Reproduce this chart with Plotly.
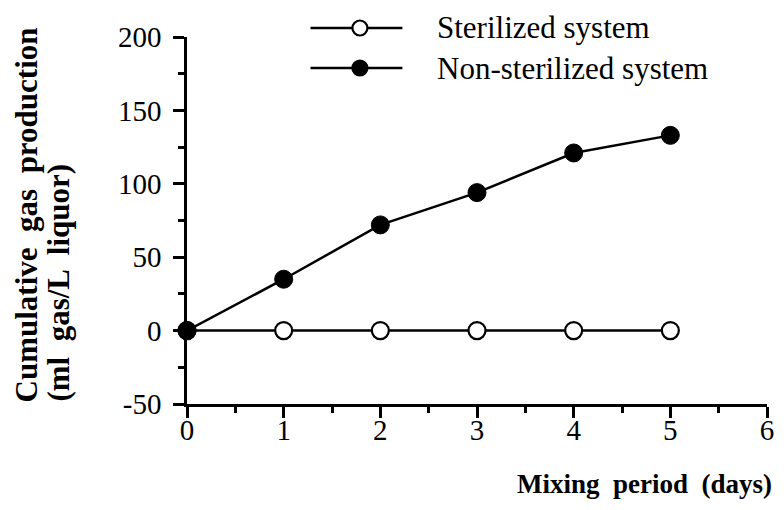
import plotly.graph_objects as go

days = [0, 1, 2, 3, 4, 5]
sterilized = [0, 0, 0, 0, 0, 0]
non_sterilized = [0, 35, 72, 94, 121, 133]
x_ticks = [0, 1, 2, 3, 4, 5, 6]
y_ticks = [-50, 0, 50, 100, 150, 200]
series_names = ["Sterilized system", "Non-sterilized system"]

FONT = "Liberation Serif"
L, R, T, B = 187, 10, 37, 106
W, H = 784, 510
pw, ph = W - L - R, H - T - B

def px_to_paper(px, py):
    return (px - L) / pw, (H - B - py) / ph

fig = go.Figure()
fig.add_trace(go.Scatter(
    x=days, y=sterilized, mode="lines+markers", name=series_names[0],
    line=dict(color="black", width=2.5),
    marker=dict(symbol="circle", size=17, color="white", line=dict(color="black", width=2.2)),
    showlegend=False, cliponaxis=False))
fig.add_trace(go.Scatter(
    x=days, y=non_sterilized, mode="lines+markers", name=series_names[1],
    line=dict(color="black", width=2.5),
    marker=dict(symbol="circle", size=18, color="black", line=dict(color="black", width=1)),
    showlegend=False, cliponaxis=False))

# manual legend
shapes = []
annotations = []
for i, (name, fill) in enumerate(zip(series_names, ["white", "black"])):
    py = 28 + i * 40
    x0, yy = px_to_paper(312, py)
    x1, _ = px_to_paper(405, py)
    xc, _ = px_to_paper(362, py)
    shapes.append(dict(type="line", xref="paper", yref="paper", x0=x0, x1=x1, y0=yy, y1=yy,
                       line=dict(color="black", width=2.5)))
    r = 7.5
    shapes.append(dict(type="circle", xref="paper", yref="paper", xsizemode="pixel", ysizemode="pixel",
                       xanchor=xc, yanchor=yy, x0=-r, x1=r, y0=-r, y1=r,
                       fillcolor=fill, line=dict(color="black", width=2.2)))
    tx, _ = px_to_paper(438, py)
    annotations.append(dict(text=name, xref="paper", yref="paper", x=tx, y=yy, xanchor="left",
                            yanchor="middle", showarrow=False, font=dict(family=FONT, size=31, color="black")))

tx, ty = px_to_paper(650, 484)
annotations.append(dict(text="<b>Mixing  period  (days)</b>", xref="paper", yref="paper", x=tx, y=ty,
                        xanchor="center", yanchor="middle", showarrow=False,
                        font=dict(family=FONT, size=27, color="black")))
for text, cx in [("<b>Cumulative  gas  production</b>", 25), ("<b>(ml  gas/L  liquor)</b>", 56)]:
    tx, ty = px_to_paper(cx, 404)
    annotations.append(dict(text=text, xref="paper", yref="paper",
                            x=tx, y=ty, xanchor="center", yanchor="bottom", textangle=-90, showarrow=False,
                            font=dict(family=FONT, size=31, color="black")))

fig.update_layout(
    width=W, height=H, margin=dict(l=L, r=R, t=T, b=B),
    paper_bgcolor="white", plot_bgcolor="white",
    shapes=shapes, annotations=annotations, showlegend=False,
    xaxis=dict(range=[0, 6], tickvals=x_ticks, ticktext=[str(v) for v in x_ticks],
               showgrid=False, zeroline=False, showline=True, linecolor="black", linewidth=2.5,
               ticks="outside", ticklen=11, tickwidth=2.5, tickcolor="black",
               ticklabelstandoff=-13,
               minor=dict(dtick=0.5, ticks="outside", ticklen=6, tickwidth=2.5, tickcolor="black"),
               tickfont=dict(family=FONT, size=29, color="black")),
    yaxis=dict(range=[-50, 200], tickvals=y_ticks, ticktext=[str(v) for v in y_ticks],
               showgrid=False, zeroline=False, showline=True, linecolor="black", linewidth=2.5,
               ticks="outside", ticklen=11, tickwidth=2.5, tickcolor="black",
               ticklabelstandoff=6,
               minor=dict(dtick=25, ticks="outside", ticklen=6, tickwidth=2.5, tickcolor="black"),
               tickfont=dict(family=FONT, size=29, color="black")),
)

fig.write_html("out.html")
